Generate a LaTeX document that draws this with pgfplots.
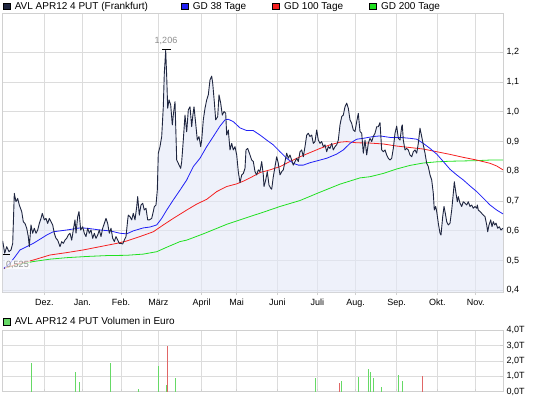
\documentclass[border=0pt]{standalone}
\usepackage{pgfplots}
\pgfplotsset{compat=1.18}
\usepackage{pgfplotstable}
\usepackage{fontspec}
\setmainfont{Liberation Sans}
\definecolor{pricec}{HTML}{1F2640}
\definecolor{fillc}{RGB}{227,232,247}
\definecolor{gdblue}{HTML}{2020F5}
\definecolor{gdred}{HTML}{F52020}
\definecolor{gdgreen}{HTML}{20E020}
\definecolor{gridc}{HTML}{DCDCDC}
\definecolor{framec}{HTML}{D0D0D0}
\definecolor{volg}{HTML}{66D966}
\definecolor{volr}{HTML}{E06666}
\definecolor{labg}{HTML}{8C8C8C}

\pgfplotstableread{
x y
2.7 0.566
4.7 0.525
6.7 0.547
9 0.530
11 0.536
12.7 0.558
14.3 0.726
16 0.698
17.7 0.709
19.3 0.687
21.7 0.665
23.3 0.631
25 0.625
26.7 0.609
28.3 0.581
29.3 0.547
31 0.620
32.7 0.592
34.3 0.609
36 0.592
37.7 0.603
39.3 0.625
41 0.642
42.3 0.659
44.3 0.637
46 0.642
47.7 0.625
49.3 0.642
51 0.631
52.7 0.620
54.3 0.592
56 0.575
57.7 0.569
60 0.547
61.7 0.564
63.3 0.558
65 0.569
66.7 0.575
68.3 0.586
70 0.592
71.7 0.569
73.3 0.603
75 0.637
76 0.592
77.7 0.648
79 0.665
80.7 0.603
82.7 0.614
84.3 0.592
86 0.581
87.7 0.609
89.3 0.592
91 0.603
92.7 0.575
94.3 0.592
96 0.575
97.7 0.586
99.3 0.603
101 0.581
102.7 0.609
104.3 0.625
106 0.642
107.7 0.625
109.3 0.592
111 0.609
112.7 0.575
114.3 0.564
116 0.581
117.7 0.569
119.3 0.558
121 0.558
122.7 0.556
124.3 0.569
126 0.581
127.7 0.637
128.3 0.653
130 0.648
131.7 0.637
133.3 0.659
135 0.637
136.7 0.681
137.7 0.715
139.3 0.653
141 0.687
142.7 0.693
144.3 0.670
146 0.676
147.7 0.637
149.3 0.637
151.7 0.642
153.3 0.665
154.3 0.681
156 0.687
157.3 0.737
158.3 0.861
160 0.883
161.7 0.917
163.3 1.017
164.3 1.129
165.7 1.206
166.7 1.118
167.7 1.012
169 1.040
170.7 1.023
172.3 0.956
173.3 0.989
175 1.034
176.7 0.838
178.3 0.827
180.7 0.810
181.7 0.833
183.3 0.905
185 0.989
186.7 0.933
188.3 1.006
190 1.017
191.7 0.950
192.7 0.984
194 1.017
195.7 0.961
197.3 0.905
199 0.917
200.7 0.883
201.7 0.905
203.3 0.973
205 1.012
206.7 1.040
208.3 1.057
210 1.107
211.7 1.120
212.7 1.096
214.3 1.034
215.7 0.973
217.7 0.984
219 1.057
220.7 1.029
222.3 0.989
224 1.001
225.7 0.995
226.7 0.922
228.3 0.939
230 0.872
231.7 0.894
233.3 0.872
235 0.883
236.7 0.855
238.3 0.799
240 0.762
241.7 0.788
243.3 0.793
245 0.810
246 0.872
247.7 0.877
250 0.855
251.7 0.838
253.3 0.833
255 0.799
256.7 0.788
258.3 0.805
260 0.799
261.7 0.833
263.3 0.788
264 0.749
265.7 0.771
267.3 0.799
269 0.754
270.7 0.743
271.7 0.740
273.3 0.782
275 0.816
276.7 0.849
278.3 0.827
280 0.788
281.7 0.799
283.3 0.805
285 0.833
286.7 0.861
288.3 0.844
290 0.855
291.7 0.838
293.3 0.821
295 0.833
296.7 0.844
298.3 0.833
300 0.866
301.7 0.872
303.3 0.849
305 0.883
306.7 0.922
308.3 0.928
310 0.917
311.7 0.922
313.3 0.894
315 0.900
316.7 0.939
318.3 0.905
320 0.894
321.7 0.900
323.3 0.883
325 0.889
326.7 0.866
328.3 0.883
330 0.877
331.7 0.894
333.3 0.872
335 0.883
336.7 0.889
338.3 0.905
340 0.956
341.7 0.984
343.3 0.989
345 1.017
346.7 1.029
348.3 1.012
350 0.973
351.7 0.961
353.3 0.939
355 0.934
356.7 0.967
358.3 0.995
360 0.934
361.7 0.928
363.3 0.861
365 0.905
366.7 0.855
368.3 0.894
370 0.911
371.7 0.900
373.3 0.917
375 0.928
376.7 0.950
378.3 0.950
380 0.964
381.7 0.872
383.3 0.866
385 0.872
386.7 0.855
388.3 0.844
390 0.838
391.7 0.844
393.3 0.877
395 0.928
396.7 0.952
398.3 0.911
400 0.905
401.7 0.950
402.3 0.956
403.3 0.905
405 0.872
406.7 0.877
408.3 0.872
410 0.855
411.7 0.849
413.3 0.866
415 0.872
416.7 0.861
418.3 0.894
420 0.945
421.7 0.917
423.3 0.889
425 0.861
426.7 0.827
428.3 0.816
430 0.788
431.7 0.771
433.3 0.726
434.3 0.670
435.7 0.682
436.7 0.665
438.3 0.626
440 0.592
441 0.586
442.7 0.648
444 0.682
445.3 0.659
446.7 0.631
448.3 0.620
450 0.626
451.7 0.670
453.3 0.726
454.3 0.765
456 0.726
457.3 0.698
458.3 0.715
460 0.693
461.7 0.682
463.3 0.698
465 0.693
466.7 0.687
468.3 0.698
470 0.682
471.7 0.687
473.3 0.676
475 0.682
476.7 0.676
477.3 0.687
478.3 0.670
480 0.665
481.7 0.659
483.3 0.653
485 0.648
486.7 0.620
487.7 0.597
489 0.620
490.7 0.637
492 0.614
493.3 0.631
494.7 0.620
496 0.626
497.7 0.609
499.3 0.614
501 0.603
503 0.609
}\price

\pgfplotstableread{
x y
4 0.474
10 0.491
15 0.513
20 0.536
26.7 0.547
33.3 0.558
40 0.572
46.7 0.586
53.3 0.597
66.7 0.603
80 0.610
86.7 0.609
100 0.603
110 0.600
120 0.592
126.7 0.590
133.3 0.600
143.3 0.610
150 0.613
156.7 0.620
161.7 0.642
166.7 0.670
173.3 0.704
180 0.737
186.7 0.771
193.3 0.816
200 0.844
206.7 0.883
213.3 0.917
220 0.952
225 0.973
228.3 0.975
233.3 0.967
240 0.946
246.7 0.937
253.3 0.937
260 0.922
266.7 0.905
273.3 0.889
280 0.866
286.7 0.844
293.3 0.827
298.3 0.821
303.3 0.821
310 0.829
316.7 0.835
326.7 0.844
336.7 0.858
343.3 0.872
350 0.894
356.7 0.908
363.3 0.911
373.3 0.917
380 0.919
390 0.914
400 0.914
410 0.911
416.7 0.908
423.3 0.894
430 0.877
436.7 0.858
443.3 0.833
450 0.807
456.7 0.788
463.3 0.771
470 0.751
476.7 0.732
483.3 0.710
490 0.687
496.7 0.670
503 0.657
}\gdA

\pgfplotstableread{
x y
4 0.474
20 0.491
33.3 0.502
50 0.519
66.7 0.527
83.3 0.536
100 0.547
116.7 0.558
126.7 0.566
140 0.581
153.3 0.597
163.3 0.620
173.3 0.642
186.7 0.670
196.7 0.690
206.7 0.706
216.7 0.732
226.7 0.749
236.7 0.758
243.3 0.767
250 0.778
260 0.796
270 0.805
280 0.816
290 0.833
300 0.849
310 0.863
320 0.877
330 0.889
340 0.898
346.7 0.900
356.7 0.896
370 0.895
383.3 0.892
396.7 0.885
410 0.880
423.3 0.875
436.7 0.866
450 0.857
463.3 0.847
476.7 0.838
490 0.827
496.7 0.818
503 0.805
}\gdB

\pgfplotstableread{
x y
4 0.474
16.7 0.486
33.3 0.497
50 0.505
66.7 0.510
86.7 0.514
106.7 0.517
126.7 0.518
143.3 0.522
156.7 0.530
166.7 0.545
180 0.564
186.7 0.569
203.3 0.590
226.7 0.622
240 0.637
253.3 0.652
260 0.659
280 0.682
300 0.702
320 0.730
340 0.757
360 0.778
370 0.782
383.3 0.793
396.7 0.808
410 0.820
423.3 0.828
436.7 0.832
450 0.834
463.3 0.835
476.7 0.836
490 0.838
503 0.838
}\gdC

\pgfplotstableread{
x y
31.4 1.85
75.7 1.31
79.1 0.63
110.2 1.85
138.4 0.16
158.6 1.69
166.6 0.41
175.3 0.90
315.7 0.90
341.9 0.72
358.9 0.97
368.0 1.51
370.1 1.31
373.6 0.90
381.3 0.29
398.0 1.08
402.9 0.72
}\volgreen

\pgfplotstableread{
x y
167.6 3.00
339.8 0.56
422.0 1.02
}\volred

\pgfplotsset{
  base/.style={
    scale only axis,
    xmin=2.7, xmax=503,
    axis line style={draw=framec, line width=0.8pt},
    grid=major,
    major grid style={draw=gridc, line width=0.8pt},
    xtick={44.3,82.3,121,158.3,201.7,236.7,277.3,317.3,355.7,396.7,437.3,475.7},
    xtick pos=left, ytick pos=right, yticklabel pos=right,
    ytick align=inside,
    major tick length=3pt,
    tick style={draw=framec, line width=0.8pt},
    tick label style={font=\fontsize{9}{10}\selectfont},
  }
}

\begin{document}
\begin{tikzpicture}[x=1pt,y=1pt]
\useasboundingbox (0,0) rectangle (545,398);

% legend top
\filldraw[fill=pricec, draw=black, line width=0.6pt] (3.5,388.2) rectangle (10.4,395.1);
\node[anchor=base west, inner sep=0pt, font=\fontsize{10}{12}\selectfont] at (14.6,388.3) {AVL APR12 4 PUT (Frankfurt)};
\filldraw[fill=gdblue, draw=black, line width=0.6pt] (181.2,388.2) rectangle (188.1,395.1);
\node[anchor=base west, inner sep=0pt, font=\fontsize{10}{12}\selectfont] at (192.7,388.3) {GD 38 Tage};
\filldraw[fill=gdred, draw=black, line width=0.6pt] (271.9,388.2) rectangle (278.8,395.1);
\node[anchor=base west, inner sep=0pt, font=\fontsize{10}{12}\selectfont] at (284,388.3) {GD 100 Tage};
\filldraw[fill=gdgreen, draw=black, line width=0.6pt] (369.1,388.2) rectangle (376.0,395.1);
\node[anchor=base west, inner sep=0pt, font=\fontsize{10}{12}\selectfont] at (380.9,388.3) {GD 200 Tage};

\begin{axis}[base,
  at={(2.7pt,384.4pt)}, anchor=north west,
  width=500.3pt, height=278.9pt,
  ymin=0.393, ymax=1.33,
  ytick={0.4,0.5,...,1.21},
  xtick align=outside,
  xticklabels={Dez.,Jan.,Feb.,März,April,Mai,Juni,Juli,Aug.,Sep.,Okt.,Nov.},
  yticklabel style={/pgf/number format/.cd, fixed, fixed zerofill, precision=1, use comma, assume math mode=true},
]
\addplot[fill=fillc, fill opacity=0.6, draw=none] table {\price} \closedcycle;
\addplot[gdgreen, line width=0.8pt] table {\gdC};
\addplot[gdred, line width=0.8pt] table {\gdB};
\addplot[gdblue, line width=0.8pt] table {\gdA};
\addplot[pricec, line width=0.9pt, line join=round] table {\price};
\addplot[black, line width=1pt] coordinates {(162,1.21) (171,1.21)};
\addplot[black, line width=1pt] coordinates {(2.7,0.522) (10,0.522)};
\node[text=labg, font=\fontsize{9}{10}\selectfont, inner sep=0pt] at (axis cs:166,1.238) {1,206};
\node[fill=white, fill opacity=0.7, text opacity=1, text=labg, inner sep=1pt, font=\fontsize{9}{10}\selectfont] at (axis cs:17.5,0.487) {0,525};
\end{axis}

% legend volume
\filldraw[fill=volg, draw=black, line width=0.6pt] (3.5,73.0) rectangle (10.4,79.9);
\node[anchor=base west, inner sep=0pt, font=\fontsize{10}{12}\selectfont] at (14.6,73.1) {AVL APR12 4 PUT Volumen in Euro};

\begin{axis}[base,
  at={(2.7pt,6.2pt)}, anchor=south west,
  width=500.3pt, height=61.5pt,
  ymin=0, ymax=4,
  ytick={0,1,2,3,4},
  yticklabels={{0,0T},{1,0T},{2,0T},{3,0T},{4,0T}},
  xtick align=inside,
  xticklabels={},
]
\addplot[ycomb, volg, line width=1pt, mark=none] table {\volgreen};
\addplot[ycomb, volr, line width=1pt, mark=none] table {\volred};
\end{axis}
\end{tikzpicture}
\end{document}
